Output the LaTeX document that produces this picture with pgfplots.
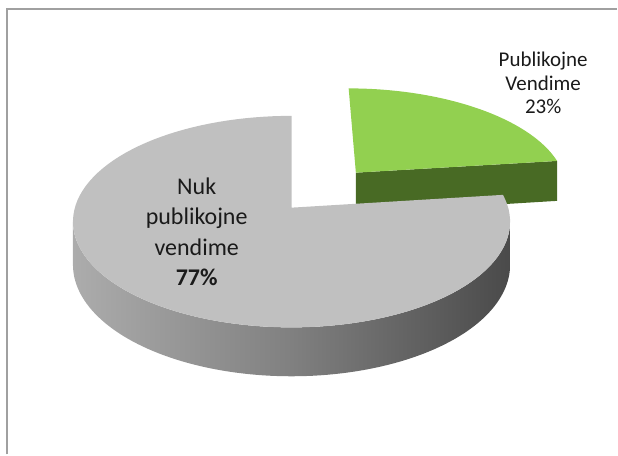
\documentclass[border=0pt]{standalone}
\usepackage{pgfplots}
\pgfplotsset{compat=1.18}
\usepackage{pgfplotstable}
\usepackage{fontspec}
\setmainfont{Carlito}

\definecolor{greenTop}{RGB}{146,208,80}
\definecolor{greenSide}{RGB}{72,106,36}
\definecolor{grayTop}{RGB}{192,192,192}
\definecolor{sideL}{RGB}{172,172,172}
\definecolor{sideM}{RGB}{128,128,128}
\definecolor{sideR}{RGB}{74,74,74}
\definecolor{frameC}{RGB}{160,160,160}
\definecolor{txt}{RGB}{26,26,26}

\pgfplotstableread{
label value
Publikojne 23
Nuk 77
}\piedata

\begin{document}
\begin{tikzpicture}[declare function={
  wf(\z)=1/(1+0.132*\z);
  sx(\X,\Z)=292+217*\X*wf(\Z);
  sy(\Z,\h)=247+(104.1*\Z-42.5*\h)*wf(\Z);
}]
\pgfplotstablegetelem{0}{value}\of\piedata \pgfmathsetmacro{\vG}{\pgfplotsretval}
\pgfplotstablegetelem{1}{value}\of\piedata \pgfmathsetmacro{\vN}{\pgfplotsretval}
\pgfmathsetmacro{\tot}{\vG+\vN}
\pgfmathsetmacro{\gA}{90-360*\vG/\tot}
\pgfmathsetmacro{\gB}{90}
\pgfmathsetmacro{\nA}{90}
\pgfmathsetmacro{\nB}{\gA+360}
\pgfmathsetmacro{\bis}{(\gA+\gB)/2}
\pgfmathsetmacro{\ex}{0.47*cos(\bis)}
\pgfmathsetmacro{\ez}{0.47*sin(\bis)}
\pgfmathsetmacro{\silA}{180+asin(0.132)}
\pgfmathsetmacro{\silB}{360-asin(0.132)}
\pgfmathsetmacro{\silD}{\silB-\silA}
% green radial face corners
\pgfmathsetmacro{\rX}{\ex+cos(\gA)}
\pgfmathsetmacro{\rZ}{\ez+sin(\gA)}
\pgfmathsetmacro{\pAx}{sx(\ex,\ez)}
\pgfmathsetmacro{\pAy}{sy(\ez,0)}
\pgfmathsetmacro{\pAby}{sy(\ez,1)}
\pgfmathsetmacro{\pRx}{sx(\rX,\rZ)}
\pgfmathsetmacro{\pRy}{sy(\rZ,0)}
\pgfmathsetmacro{\pRby}{sy(\rZ,1)}
\begin{axis}[scale only axis, width=618pt, height=455pt,
  xmin=0, xmax=618, ymin=0, ymax=455, hide axis, clip=false]
\path (axis cs:0,0) rectangle (axis cs:618,455);
\draw[frameC, line width=2pt] (axis cs:7,0) -- (axis cs:7,446) -- (axis cs:618,446);
% green slice (exploded): radial face
\addplot[fill=greenSide, draw=none] coordinates {
  (\pAx,\pAy) (\pRx,\pRy) (\pRx,\pRby) (\pAx,\pAby)} -- cycle;
% green top
\addplot[fill=greenTop, draw=none, domain=0:1.02, samples=103, variable=\t]
  ({\t>1.001 ? sx(\ex,\ez) : sx(\ex+cos(\gA+\t*(\gB-\gA)), \ez+sin(\gA+\t*(\gB-\gA)))},
   {\t>1.001 ? sy(\ez,0) : sy(\ez+sin(\gA+\t*(\gB-\gA)),0)});
% gray side
\addplot[left color=sideL, right color=sideR, middle color=sideM, draw=none,
  domain=0:2, samples=201, variable=\t]
  ({\t<1.0005 ? sx(cos(\silA+\t*\silD), sin(\silA+\t*\silD)) : sx(cos(\silB-(\t-1)*\silD), sin(\silB-(\t-1)*\silD))},
   {\t<1.0005 ? sy(sin(\silA+\t*\silD),0) : sy(sin(\silB-(\t-1)*\silD),1)});
% gray top
\addplot[fill=grayTop, draw=none, domain=0:1.02, samples=103, variable=\t]
  ({\t>1.001 ? sx(0,0) : sx(cos(\nA+\t*(\nB-\nA)), sin(\nA+\t*(\nB-\nA)))},
   {\t>1.001 ? sy(0,0) : sy(sin(\nA+\t*(\nB-\nA)),0)});
\node[txt, align=center, font=\fontsize{21}{23.5}\selectfont] at (axis cs:544,372)
  {Publikojne\\Vendime\\23\%};
\node[txt, align=center, font=\fontsize{24}{30.5}\selectfont] at (axis cs:197,223)
  {Nuk\\publikojne\\vendime\\\textbf{77\%}};
\end{axis}
\end{tikzpicture}
\end{document}
